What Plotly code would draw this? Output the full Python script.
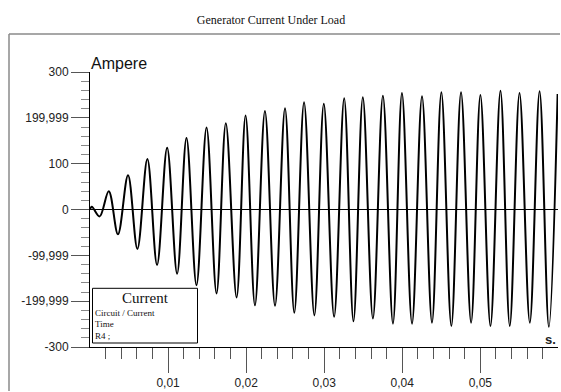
import plotly.graph_objects as go

# Extrema of the current waveform (time in s, current in A)
time_s = [0.0, 0.00024, 0.00123, 0.0024, 0.00358, 0.00487, 0.00607, 0.00735, 0.00859,
          0.00988, 0.01116, 0.01236, 0.01364, 0.01493, 0.01621, 0.0174, 0.01878,
          0.01993, 0.02113, 0.02241, 0.0237, 0.02498, 0.02617, 0.02742, 0.02874,
          0.02995, 0.03127, 0.03256, 0.03375, 0.03495, 0.03624, 0.03752, 0.03881,
          0.03996, 0.04125, 0.04253, 0.04381, 0.04501, 0.04629, 0.04753, 0.04882,
          0.05001, 0.0513, 0.05258, 0.05377, 0.05502, 0.05634, 0.05759, 0.05878, 0.0599]
current_a = [0, 6, -15, 40, -54, 75, -86, 110, -121,
             135, -140, 156, -165, 179, -183, 188, -192,
             205, -209, 215, -210, 221, -225, 234, -231,
             231, -234, 243, -244, 245, -238, 248, -249,
             254, -249, 247, -247, 256, -254, 256, -247,
             250, -254, 259, -254, 254, -247, 258, -256, 252]

y_tick_vals = [300, 200, 100, 0, -100, -200, -300]
y_tick_text = ["300", "199,999", "100", "0", "-99,999", "-199,999", "-300"]
x_tick_vals = [0.01, 0.02, 0.03, 0.04, 0.05]
x_tick_text = ["0,01", "0,02", "0,03", "0,04", "0,05"]

W, H = 561, 392
L, R, T, B = 90, 3, 72, 45
pw, ph = W - L - R, H - T - B


def px(x):
    return (x - L) / pw


def py(y):
    return (H - B - y) / ph


fig = go.Figure()
fig.add_trace(go.Scatter(
    x=time_s, y=current_a, mode="lines",
    line=dict(color="black", width=2, shape="spline", smoothing=1),
    hoverinfo="skip", showlegend=False,
))

fig.update_layout(
    width=W, height=H,
    margin=dict(l=L, r=R, t=T, b=B, pad=0),
    paper_bgcolor="white", plot_bgcolor="white",
    showlegend=False,
    font=dict(family="Liberation Sans, Arial, sans-serif", size=12, color="#222"),
    title=dict(text="Generator Current Under Load", x=271 / W, xanchor="center",
               y=1 - 20 / H, yanchor="middle",
               font=dict(family="Liberation Serif, Times New Roman, serif", size=12, color="#111")),
    xaxis=dict(range=[0, 0.05995], showgrid=False, zeroline=False,
               showline=True, linecolor="black", linewidth=1,
               tickmode="array", tickvals=x_tick_vals, ticktext=x_tick_text,
               ticks="outside", ticklen=25, tickwidth=1, tickcolor="#555",
               tickfont=dict(size=12, color="#222"),
               minor=dict(tickvals=[round(0.002 * i, 3) for i in range(1, 30)],
                          ticks="outside", ticklen=11,
                          tickwidth=1, tickcolor="#555", showgrid=False)),
    yaxis=dict(range=[-300, 300], showgrid=False,
               zeroline=True, zerolinecolor="black", zerolinewidth=1,
               showline=True, linecolor="black", linewidth=1,
               tickmode="array", tickvals=y_tick_vals, ticktext=y_tick_text,
               ticks="outside", ticklen=18, tickwidth=1, tickcolor="#555",
               tickfont=dict(size=12, color="#222"),
               minor=dict(tickvals=list(range(-280, 300, 20)), ticks="outside", ticklen=8,
                          tickwidth=1, tickcolor="#888", showgrid=False)),
)

# outer grey frame (left and top edges)
frame = dict(color="#8a8a8a", width=1.5)
fig.add_shape(type="line", xref="paper", yref="paper",
              x0=px(9), x1=px(9), y0=py(391), y1=py(34), line=frame)
fig.add_shape(type="line", xref="paper", yref="paper",
              x0=px(9), x1=px(560), y0=py(34), y1=py(34), line=frame)

# legend box
fig.add_shape(type="rect", xref="paper", yref="paper",
              x0=px(92.5), x1=px(197.5), y0=py(343), y1=py(288.3),
              line=dict(color="black", width=1), fillcolor="white", layer="above")

serif = "Liberation Serif, Times New Roman, serif"
fig.add_annotation(text="Current", xref="paper", yref="paper", x=px(145), y=py(297.5),
                   xanchor="center", yanchor="middle", showarrow=False,
                   font=dict(family=serif, size=15, color="#111"))
for label, yy in [("Circuit / Current", 312.7), ("Time", 324.3), ("R4 ;", 335.7)]:
    fig.add_annotation(text=label, xref="paper", yref="paper", x=px(93), y=py(yy),
                       xanchor="left", yanchor="middle", showarrow=False,
                       font=dict(family=serif, size=9, color="#111"))

fig.add_annotation(text="Ampere", xref="paper", yref="paper", x=px(89), y=py(63),
                   xanchor="left", yanchor="middle", showarrow=False,
                   font=dict(size=16, color="#111"))
fig.add_annotation(text="<b>s.</b>", xref="paper", yref="paper", x=px(558), y=py(339),
                   xanchor="right", yanchor="middle", showarrow=False,
                   font=dict(size=13, color="#222"))

fig.write_html("out.html", config={"displayModeBar": False},
               post_script="document.body.style.margin='0px';document.body.style.overflow='hidden';")
